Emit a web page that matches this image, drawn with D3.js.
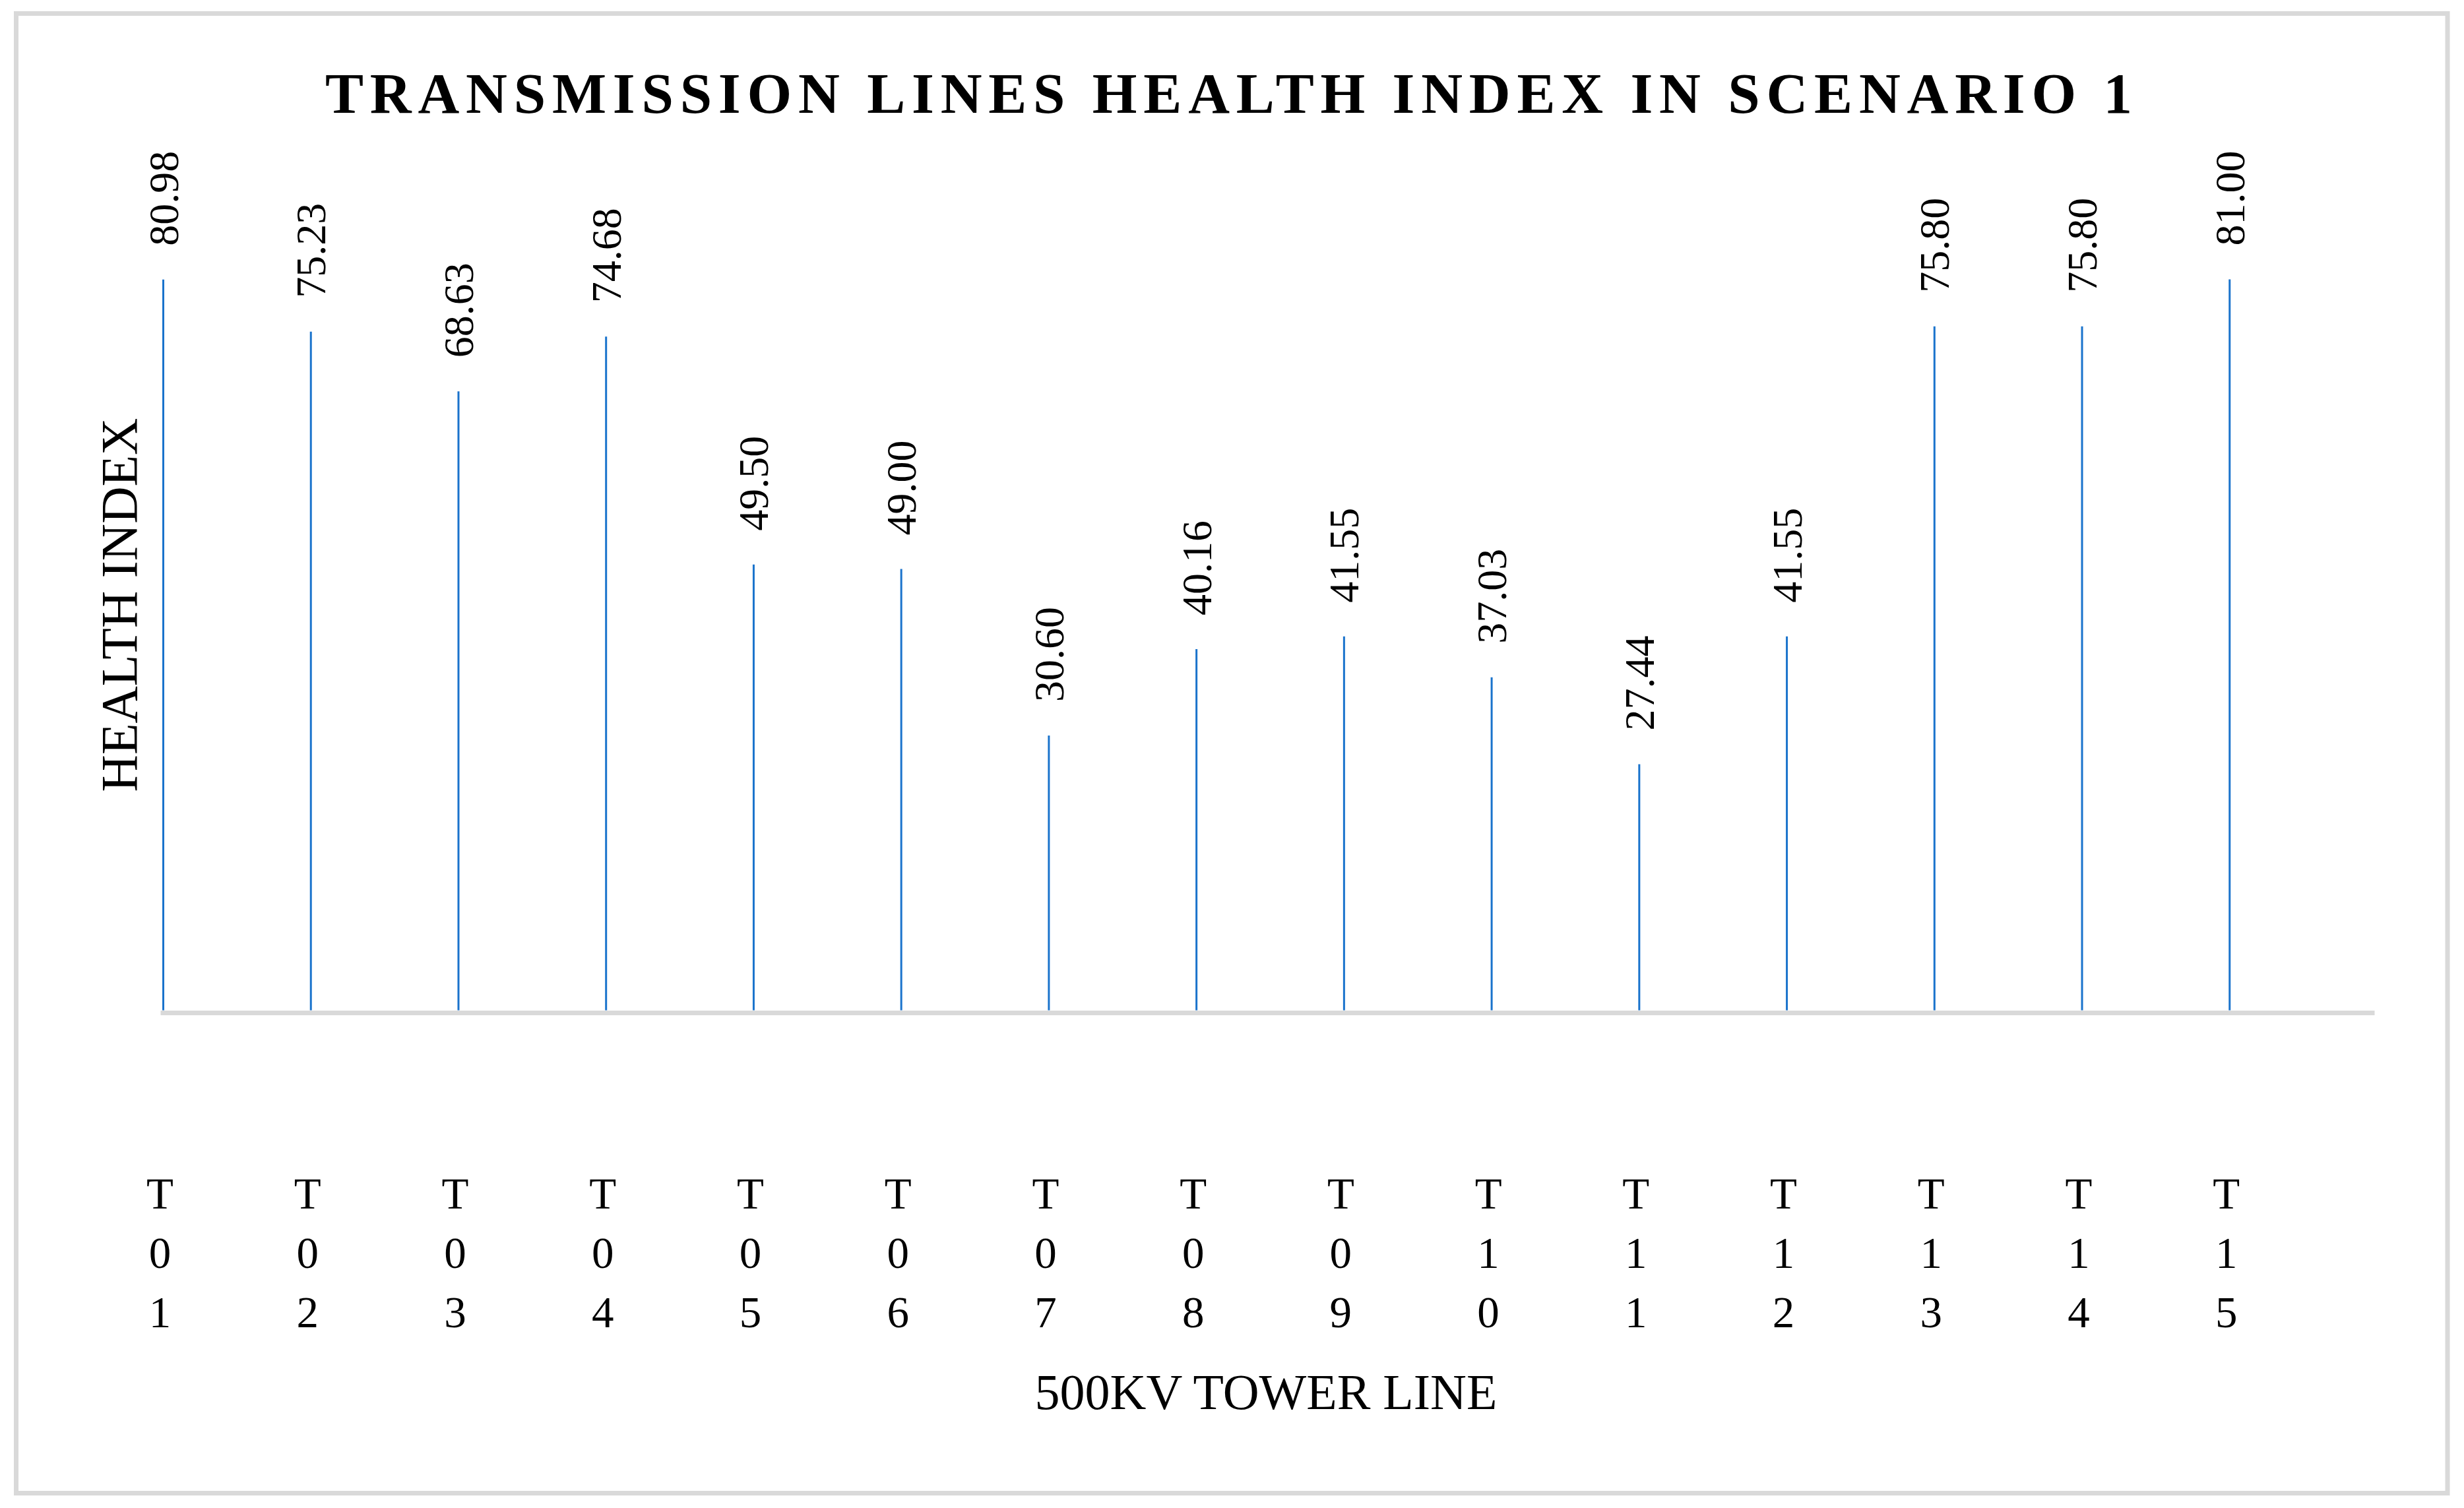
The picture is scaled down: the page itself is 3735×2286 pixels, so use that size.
<!DOCTYPE html>
<html>
<head>
<meta charset="utf-8">
<script src="https://cdn.jsdelivr.net/npm/d3@7"></script>
<style>
  html, body { margin: 0; padding: 0; background: #ffffff; }
  svg { display: block; }
</style>
</head>
<body>
<div id="chart"></div>
<script>
// ---- data ----
const categories = ["T01","T02","T03","T04","T05","T06","T07","T08","T09","T10","T11","T12","T13","T14","T15"];
const healthValues = [80.98, 75.23, 68.63, 74.68, 49.50, 49.00, 30.60, 40.16, 41.55, 37.03, 27.44, 41.55, 75.80, 75.80, 81.00];
const titleText = "TRANSMISSION LINES HEALTH INDEX IN SCENARIO 1";
const yAxisTitle = "HEALTH INDEX";
const xAxisTitle = "500KV TOWER LINE";
const yDomain = [0, 90];

// ---- layout ----
const W = 3735, H = 2286;
const FONT = "'Liberation Serif', 'Times New Roman', serif";
const BAR_COLOR = "#1a73cc";
const GRID_GRAY = "#d9d9d9";

const svg = d3.select("#chart").append("svg")
  .attr("width", W).attr("height", H)
  .attr("viewBox", `0 0 ${W} ${H}`);

svg.append("rect").attr("width", W).attr("height", H).attr("fill", "#fff");

// chart border
svg.append("rect")
  .attr("x", 24.5).attr("y", 20.5)
  .attr("width", 3710 - 24.5).attr("height", 2263.5 - 20.5)
  .attr("fill", "none").attr("stroke", GRID_GRAY).attr("stroke-width", 7);

const x = d3.scaleBand().domain(categories).range([243, 3599]).paddingInner(0).paddingOuter(0);
const y = d3.scaleLinear().domain(yDomain).range([1535, 300]);
const barOffset = 4.5;

// axis (baseline)
const xAxis = d3.axisBottom(x).tickValues([]).tickSizeOuter(0);
const axisG = svg.append("g").attr("transform", `translate(0,${y(0)})`).call(xAxis);
axisG.select(".domain").attr("stroke", GRID_GRAY).attr("stroke-width", 7);

// bars (thin lines)
svg.append("g").selectAll("line").data(categories).join("line")
  .attr("x1", d => x(d) + barOffset).attr("x2", d => x(d) + barOffset)
  .attr("y1", (d, i) => y(healthValues[i]))
  .attr("y2", y(0) - 3.5)
  .attr("stroke", BAR_COLOR).attr("stroke-width", 3);

// data labels (rotated)
const fmt = d3.format(".2f");
svg.append("g").selectAll("text").data(categories).join("text")
  .attr("transform", (d, i) => `translate(${x(d) + barOffset + 22},${y(healthValues[i]) - 51}) rotate(-90)`)
  .attr("text-anchor", "start")
  .attr("font-family", FONT).attr("font-size", 64).attr("fill", "#000")
  .text((d, i) => fmt(healthValues[i]));

// x tick labels, one character per line
const tickG = svg.append("g");
categories.forEach(c => {
  const t = tickG.append("text")
    .attr("text-anchor", "middle")
    .attr("font-family", FONT).attr("font-size", 67).attr("fill", "#000");
  c.split("").forEach((ch, k) => {
    t.append("tspan").attr("x", x(c) + barOffset - 5).attr("y", 1832 + k * 90).text(ch);
  });
});

// title with letter spacing fitted to width
const title = svg.append("text")
  .attr("x", 493).attr("y", 171)
  .attr("text-anchor", "start")
  .attr("font-family", FONT).attr("font-weight", "bold").attr("font-size", 87)
  .attr("fill", "#000")
  .text(titleText);
const natural = title.node().getComputedTextLength();
const targetW = 3232 - 493;
const ls = (targetW - natural) / (titleText.length - 1);
title.attr("letter-spacing", ls);

// axis titles
svg.append("text")
  .attr("x", 1919).attr("y", 2136)
  .attr("text-anchor", "middle")
  .attr("font-family", FONT).attr("font-size", 76).attr("fill", "#000")
  .text(xAxisTitle);

svg.append("text")
  .attr("transform", `translate(207,917) rotate(-90)`)
  .attr("text-anchor", "middle")
  .attr("font-family", FONT).attr("font-size", 78).attr("fill", "#000")
  .text(yAxisTitle);
</script>
</body>
</html>
